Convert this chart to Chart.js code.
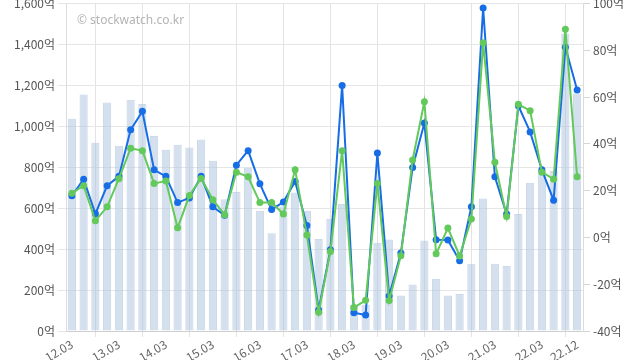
<!DOCTYPE html>
<html>
<head>
<meta charset="utf-8">
<script src="https://cdn.jsdelivr.net/npm/chart.js@4"></script>
<style>
    html, body { margin: 0; padding: 0; background: #fff; }
    #wrap { width: 640px; height: 360px; }
</style>
</head>
<body>
<div id="wrap"><canvas id="dashboardChart"></canvas></div>
<script>
// Quarter labels (12.03 ~ 22.12)
const quarters = [
    '12.03', '12.06', '12.09', '12.12', '13.03', '13.06', '13.09', '13.12',
    '14.03', '14.06', '14.09', '14.12', '15.03', '15.06', '15.09', '15.12',
    '16.03', '16.06', '16.09', '16.12', '17.03', '17.06', '17.09', '17.12',
    '18.03', '18.06', '18.09', '18.12', '19.03', '19.06', '19.09', '19.12',
    '20.03', '20.06', '20.09', '20.12', '21.03', '21.06', '21.09', '21.12',
    '22.03', '22.06', '22.09', '22.12'
];

// Sales (left axis, 억)
const sales = [
    1037, 1155, 920, 1116, 905, 1130, 1109, 953, 886, 910, 897,
    935, 832, 644, 679, 798, 587, 478, 610, 677, 587, 449,
    548, 621, 127, 128, 431, 447, 173, 227, 442, 254, 173,
    181, 329, 647, 328, 318, 571, 724, 784, 783, 1453, 1160
];

// Operating profit (right axis, 억)
const operatingProfit = [
    17.8, 24.9, 10.1, 22.1, 26.1, 46.0, 53.9, 28.9, 26.1, 14.9, 16.9,
    26.1, 13.1, 9.5, 30.9, 37.1, 22.9, 11.9, 15.1, 23.9, 5.1, -31.0,
    -5.3, 65.0, -32.2, -33.2, 36.1, -25.0, -6.7, 29.9, 48.9, -1.0, -1.1,
    -10.0, 13.1, 98.1, 25.9, 10.0, 56.3, 45.1, 28.9, 15.9, 81.3, 63.0
];

// Net profit (right axis, 억)
const netProfit = [
    18.9, 22.1, 7.1, 13.1, 25.1, 38.1, 37.1, 23.1, 24.1, 4.1, 17.9,
    25.2, 16.1, 9.7, 27.9, 25.9, 14.9, 14.9, 10.0, 28.9, 1.0, -32.0,
    -6.0, 37.1, -30.0, -26.9, 23.1, -27.0, -7.8, 33.1, 58.0, -7.0, 4.0,
    -7.9, 7.9, 83.2, 32.1, 8.9, 56.9, 54.2, 27.9, 24.9, 89.0, 25.9
];

// Left / right axis ranges
const salesTicks = { min: 0, max: 1600, step: 200 };
const profitTicks = { min: -40, max: 100, step: 20 };

const labelFont = { family: "'Noto Sans CJK KR', 'Noto Sans', sans-serif", size: 12 };

// Draw the watermark text in the top-left corner of the plot
const watermark = {
    id: 'watermark',
    afterDraw(chart) {
        const c = chart.ctx;
        c.save();
        c.font = "12px 'Noto Sans', sans-serif";
        c.fillStyle = '#b4b4b4';
        c.textBaseline = 'middle';
        c.fillText('\u00A9 stockwatch.co.kr', chart.chartArea.left + 11, 21);
        c.restore();
    }
};

const ctx = document.getElementById('dashboardChart').getContext('2d');
const dashboardChart = new Chart(ctx, {
    type: 'bar',
    data: {
        labels: quarters,
        datasets: [{
            type: 'line',
            label: '순이익',
            data: netProfit,
            yAxisID: 'y1',
            borderColor: '#62c95a',
            backgroundColor: '#62c95a',
            borderWidth: 2,
            pointRadius: 3.5,
            pointBorderWidth: 0,
            pointHoverRadius: 3.5,
            tension: 0,
            order: 1
        }, {
            type: 'line',
            label: '영업이익',
            data: operatingProfit,
            yAxisID: 'y1',
            borderColor: '#176de6',
            backgroundColor: '#176de6',
            borderWidth: 2,
            pointRadius: 3.5,
            pointBorderWidth: 0,
            pointHoverRadius: 3.5,
            tension: 0,
            order: 2
        }, {
            label: '매출액',
            data: sales,
            yAxisID: 'y',
            backgroundColor: 'rgba(176, 198, 222, 0.55)',
            borderColor: 'rgba(170, 192, 218, 0.6)',
            borderWidth: 1,
            barPercentage: 0.7,
            categoryPercentage: 1,
            order: 3
        }]
    },
    options: {
        responsive: true,
        maintainAspectRatio: false,
        animation: false,
        layout: { padding: 0 },
        plugins: {
            legend: { display: false },
            tooltip: { enabled: false }
        },
        scales: {
            x: {
                offset: true,
                grid: {
                    offset: false,
                    tickLength: 6,
                    // vertical lines only every 4th quarter, like the original
                    color: function (c) {
                        return (c.index % 4 === 2 || c.index === 42) ? '#e3e3e3' : 'rgba(0,0,0,0)';
                    }
                },
                border: { color: '#cfcfcf' },
                ticks: {
                    autoSkip: false,
                    maxRotation: 30,
                    minRotation: 30,
                    padding: 0,
                    color: '#666',
                    font: labelFont,
                    callback: function (value, index) {
                        return (index % 4 === 0 || index === quarters.length - 1) ? quarters[index] : '';
                    }
                },
                afterFit: function (s) { s.height = 29; }
            },
            y: {
                position: 'left',
                min: salesTicks.min,
                max: salesTicks.max,
                grid: { color: '#e6e6e6', tickLength: 8 },
                border: { color: '#dcdcdc' },
                ticks: {
                    stepSize: salesTicks.step,
                    padding: 3,
                    color: '#555',
                    font: labelFont,
                    callback: function (value) {
                        return value.toLocaleString('en-US') + '억';
                    }
                },
                afterFit: function (s) { s.width = 66; s.paddingTop = 0; s.paddingBottom = 0; }
            },
            y1: {
                position: 'right',
                min: profitTicks.min,
                max: profitTicks.max,
                grid: { drawOnChartArea: false, color: '#d6d6d6', tickLength: 7 },
                border: { color: '#dcdcdc' },
                ticks: {
                    stepSize: profitTicks.step,
                    padding: 3,
                    color: '#555',
                    font: labelFont,
                    callback: function (value) {
                        return value + '억';
                    }
                },
                afterFit: function (s) { s.width = 57; s.paddingTop = 0; s.paddingBottom = 0; }
            }
        }
    },
    plugins: [watermark]
});
</script>
</body>
</html>
